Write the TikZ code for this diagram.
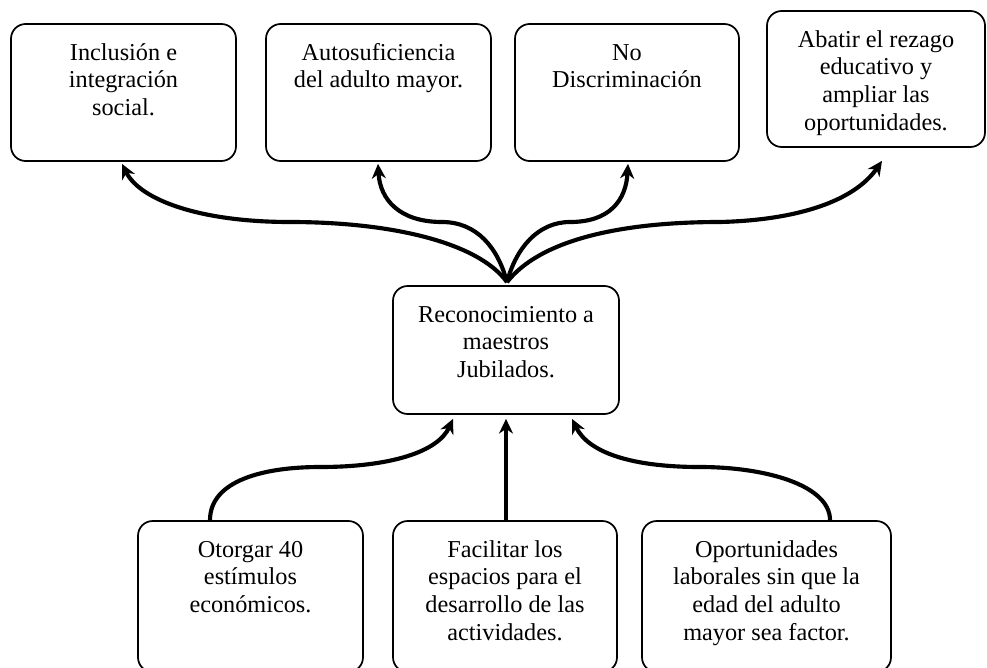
\documentclass[tikz,border=0pt]{standalone}
\usepackage{fontspec}
\setmainfont{Liberation Serif}
\usetikzlibrary{arrows.meta,calc}
\begin{document}
\begin{tikzpicture}[x=0.75pt,y=-0.75pt]
\tikzset{
  box/.style={draw, line width=1.3pt, rounded corners=11pt, inner sep=0pt},
  lbl/.style={inner sep=0pt, anchor=base, font=\fontsize{18.2}{20.8}\selectfont},
  link/.style={line width=3.1pt, -{Stealth[length=11pt,width=10.5pt,inset=3.5pt]}},
}
\useasboundingbox (0,0) rectangle (987,667);
\fill[white] (0,0) rectangle (987,667);
% boxes
\node[box, minimum width=168.75pt, minimum height=102.75pt] (T1) at (123.5,92.5) {};
\node[box, minimum width=168.75pt, minimum height=102.75pt] (T2) at (378.5,92.5) {};
\node[box, minimum width=168pt, minimum height=102.75pt] (T3) at (627,92.5) {};
\node[box, minimum width=163.5pt, minimum height=102pt] (T4) at (876,79) {};
\node[box, minimum width=169.5pt, minimum height=96pt] (C) at (506,350) {};
\node[box, minimum width=168.75pt, minimum height=113.25pt] (B1) at (250.5,596.5) {};
\node[box, minimum width=168pt, minimum height=113.25pt] (B2) at (505,596.5) {};
\node[box, minimum width=186.75pt, minimum height=113.25pt] (B3) at (766.5,596.5) {};
% texts
\node[lbl] (t1) at ($(T1.north)+(0,37)$) {\parbox[t]{165pt}{\centering Inclusión e\\integración\\social.}};
\node[lbl] (t2) at ($(T2.north)+(0,37)$) {\parbox[t]{165pt}{\centering Autosuficiencia\\del adulto mayor.}};
\node[lbl] (t3) at ($(T3.north)+(0,37)$) {\parbox[t]{165pt}{\centering No\\Discriminación}};
\node[lbl] (t4) at ($(T4.north)+(0,37)$) {\parbox[t]{160pt}{\centering Abatir el rezago\\educativo y\\ampliar las\\oportunidades.}};
\node[lbl] (tc) at ($(C.north)+(0,37)$) {\parbox[t]{165pt}{\centering Reconocimiento a\\maestros\\Jubilados.}};
\node[lbl] (tb1) at ($(B1.north)+(0,37)$) {\parbox[t]{165pt}{\centering Otorgar 40\\estímulos\\económicos.}};
\node[lbl] (tb2) at ($(B2.north)+(0,37)$) {\parbox[t]{165pt}{\centering Facilitar los\\espacios para el\\desarrollo de las\\actividades.}};
\node[lbl] (tb3) at ($(B3.north)+(0,37)$) {\parbox[t]{180pt}{\centering Oportunidades\\laborales sin que la\\edad del adulto\\mayor sea factor.}};
% connector ends
\coordinate (S) at ($(C.north)+(1,-3)$);
\coordinate (e1) at ($(T1.south)+(-1.5,2)$);
\coordinate (e2) at ($(T2.south)+(-0.5,2)$);
\coordinate (e3) at ($(T3.south)+(1,2)$);
\coordinate (e4) at ($(T4.south)+(6,13)$);
\coordinate (f1) at ($(C.south)+(-53,4)$);
\coordinate (f2) at ($(C.south)+(0,4)$);
\coordinate (f3) at ($(C.south)+(66,4)$);
\coordinate (s1) at ($(B1.north)+(-40.5,0)$);
\coordinate (s2) at ($(B2.north)+(1,0)$);
\coordinate (s3) at ($(B3.north)+(63.5,0)$);
% top connectors
\draw[link] (S) .. controls (478,242) and (390,222) .. (290,222) .. controls (200,222) and (140,200) .. (e1);
\draw[link] (S) .. controls (498,248) and (477,222) .. (442,222) .. controls (400,222) and (380,200) .. (e2);
\draw[link] (S) .. controls (516,248) and (538,222) .. (570,222) .. controls (610,222) and (626,200) .. (e3);
\draw[link] (S) .. controls (540,240) and (620,222) .. (720,222) .. controls (800,220) and (855,200) .. (e4);
% bottom connectors
\draw[link] (s1) .. controls (210,480) and (265,467) .. (320,467) .. controls (390,467) and (438,452) .. (f1);
\draw[link] (s2) -- (f2);
\draw[link] (s3) .. controls (830,485) and (765,467) .. (700,467) .. controls (630,467) and (588,452) .. (f3);
\end{tikzpicture}
\end{document}
